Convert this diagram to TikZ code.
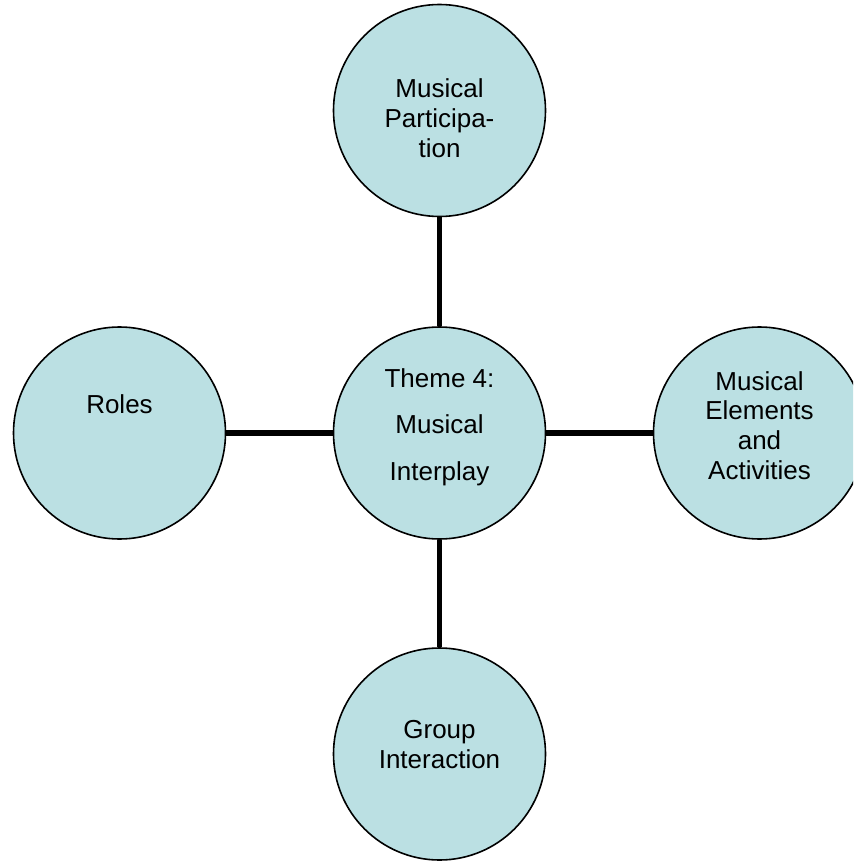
\documentclass[tikz,border=0pt]{standalone}
\usepackage{fontspec}
\setmainfont{Liberation Sans}
\definecolor{bubble}{RGB}{187,224,227}
\newcommand{\stack}[1]{\begin{tabular}[t]{@{}c@{}}#1\end{tabular}}
\begin{document}
\begin{tikzpicture}[x=1pt,y=-1pt,
  bubblenode/.style={circle, draw=black, line width=1.6pt, fill=bubble,
    minimum size=212pt, inner sep=0pt},
  conn/.style={draw=black, line width=5.5pt},
  txt/.style={anchor=base, inner sep=0pt, text=black},
  tight/.style={font=\fontsize{26}{29.7}\selectfont},
  loose/.style={font=\fontsize{26}{46.2}\selectfont}]
\useasboundingbox (0,0) rectangle (853,861);
\clip (0,0) rectangle (853,861);

% circles
\node[bubblenode] (top)   at (439.5,110.5) {};
\node[bubblenode] (mid)   at (439.5,433)   {};
\node[bubblenode] (left)  at (119.5,433)   {};
\node[bubblenode] (right) at (759.5,433)   {};
\node[bubblenode] (bot)   at (439.5,754)   {};

% spokes
\draw[conn] (top) -- (mid);
\draw[conn] (left) -- (mid);
\draw[conn] (mid) -- (right);
\draw[conn] (mid) -- (bot);

% labels
\node[txt, tight] (toptxt)   at (439.5,97.7)  {\stack{Musical\\Participa-\\tion}};
\node[txt, loose] (midtxt)   at (439.5,387.7) {\stack{Theme 4:\\Musical\\Interplay}};
\node[txt, tight] (lefttxt)  at (119.5,413.3) {\stack{Roles}};
\node[txt, tight] (righttxt) at (759.5,390)   {\stack{Musical\\Elements\\and\\Activities}};
\node[txt, tight] (bottxt)   at (439.5,738.3) {\stack{Group\\Interaction}};
\end{tikzpicture}
\end{document}
